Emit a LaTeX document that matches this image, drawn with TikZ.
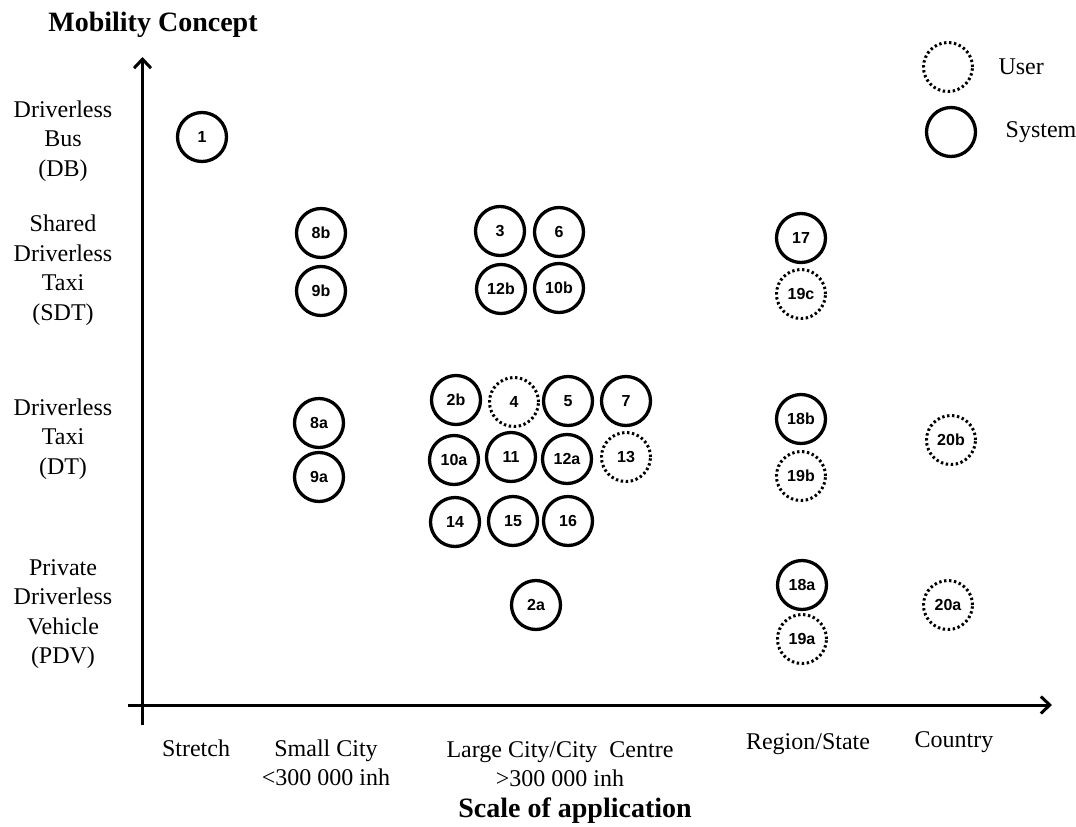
\documentclass[tikz,border=0pt]{standalone}
\usepackage{fontspec}
\setmainfont{Liberation Serif}
\newfontfamily\numfont{Liberation Sans}
\usetikzlibrary{arrows.meta}
\usetikzlibrary{positioning}
\tikzstyle{system} = [circle, minimum size=49pt, inner sep=0pt, draw=black, line width=3.3pt, font=\numfont\bfseries\fontsize{16}{16}\selectfont]
\tikzstyle{user} = [system, line width=3pt, dash pattern=on 2.4pt off 2.6pt]
\tikzstyle{concept} = [align=center, font=\fontsize{24}{29.5}\selectfont]
\tikzstyle{axistitle} = [font=\bfseries\fontsize{28}{34}\selectfont]
\tikzstyle{arrow} = [line width=3pt, -{Straight Barb[length=9pt,width=17pt]}]

\begin{document}
\begin{tikzpicture}[x=1pt, y=-1pt]

\useasboundingbox (0,0) rectangle (1076,827);

% ===== AXES =====
\coordinate (ybottom) at (142.5,725);
\coordinate (ytop) at (142.5,57);
\coordinate (xleft) at (128,705);
\coordinate (xright) at (1052,705);
\draw [arrow] (ybottom) -- (ytop);
\draw [arrow] (xleft) -- (xright);

% Axis titles
\node (title) [axistitle] at (153,25) {Mobility Concept};
\node (xtitle) [axistitle] at (575,811) {Scale of application};

% Mobility concepts
\node (db) [concept] at (63,141) {Driverless\\Bus\\(DB)};
\node (sdt) [concept] at (63,270) {Shared\\Driverless\\Taxi\\(SDT)};
\node (dt) [concept] at (63,439) {Driverless\\Taxi\\(DT)};
\node (pdv) [concept] at (63,614) {Private\\Driverless\\Vehicle\\(PDV)};

% Scales of application
\node (stretch) [concept] at (196,748) {Stretch};
\node (smallcity) [concept] at (326,763) {Small City\\<300 000 inh};
\node (largecity) [concept] at (560,764) {Large City/City~ Centre\\>300 000 inh};
\node (region) [concept] at (808,744) {Region/State};
\node (country) [concept] at (954,742) {Country};

% Legend
\node (userkey) [user] at (948,67) {};
\node (usertext) [concept, right=21pt of userkey] {User};
\node (systemkey) [system] at (951,132) {};
\node (systemtext) [concept, right=25pt of systemkey] {System};

% ===== DB =====
\node (c1) [system] at (202,137) {1};

% ===== SDT =====
\node (c8b) [system] at (321,233) {8b};
\node (c9b) [system] at (321,291) {9b};
\node (c3) [system] at (500,231) {3};
\node (c6) [system] at (559,232) {6};
\node (c12b) [system] at (501,289) {12b};
\node (c10b) [system] at (559,288) {10b};
\node (c17) [system] at (801,238) {17};
\node (c19c) [user] at (801,294) {19c};

% ===== DT =====
\node (c8a) [system] at (319,423) {8a};
\node (c9a) [system] at (319,477) {9a};
\node (c2b) [system] at (456,400) {2b};
\node (c4) [user] at (514,402) {4};
\node (c5) [system] at (568,401) {5};
\node (c7) [system] at (626,401) {7};
\node (c10a) [system] at (454,460) {10a};
\node (c11) [system] at (511,457) {11};
\node (c12a) [system] at (567,459) {12a};
\node (c13) [user] at (626,457) {13};
\node (c14) [system] at (455,522) {14};
\node (c15) [system] at (513,521) {15};
\node (c16) [system] at (568,521) {16};
\node (c18b) [system] at (801,419) {18b};
\node (c19b) [user] at (801,476) {19b};
\node (c20b) [user] at (951,440) {20b};

% ===== PDV =====
\node (c2a) [system] at (536,605) {2a};
\node (c18a) [system] at (802,585) {18a};
\node (c19a) [user] at (802,639) {19a};
\node (c20a) [user] at (948,605) {20a};

\end{tikzpicture}
\end{document}
